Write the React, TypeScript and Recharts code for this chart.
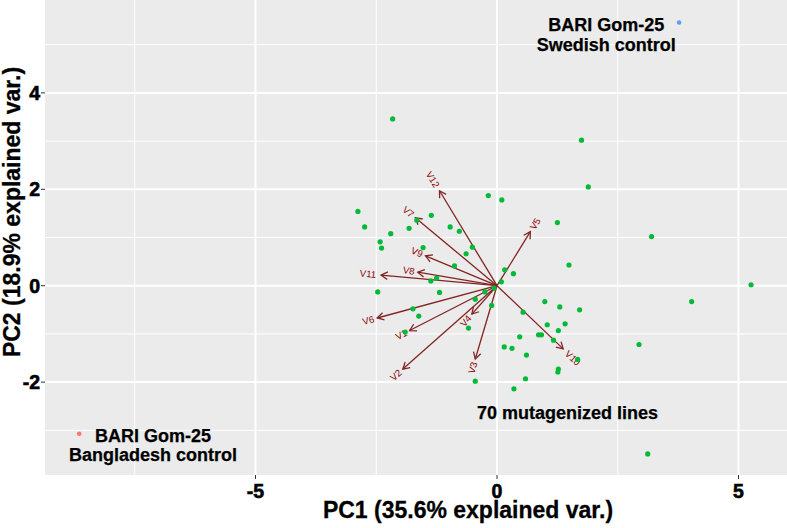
import React from 'react';
import { ScatterChart, Scatter, XAxis, YAxis, CartesianGrid, ReferenceLine } from 'recharts';

// ---------- data ----------
const mutantPoints = [
  { x: -0.18, y: 1.87 }, { x: 0.10, y: 1.78 }, { x: -2.88, y: 1.54 }, { x: -1.36, y: 1.46 },
  { x: -1.66, y: 1.36 }, { x: -2.74, y: 1.22 }, { x: -1.82, y: 1.19 }, { x: -0.97, y: 1.22 },
  { x: -0.78, y: 1.13 }, { x: -2.20, y: 1.08 }, { x: 1.25, y: 1.31 }, { x: -2.42, y: 0.91 },
  { x: -2.39, y: 0.78 }, { x: -1.53, y: 0.79 }, { x: -0.51, y: 0.80 }, { x: -0.64, y: 0.66 },
  { x: 1.49, y: 0.43 }, { x: -0.88, y: 0.41 }, { x: 0.16, y: 0.33 }, { x: 0.34, y: 0.25 },
  { x: -1.25, y: 0.16 }, { x: -1.37, y: 0.10 }, { x: 0.09, y: 0.08 }, { x: -0.06, y: -0.05 },
  { x: -2.47, y: -0.13 }, { x: -1.19, y: -0.14 }, { x: -0.25, y: -0.13 }, { x: -0.45, y: -0.28 },
  { x: 0.99, y: -0.33 }, { x: 1.30, y: -0.44 }, { x: 1.71, y: -0.50 }, { x: -0.11, y: -0.41 },
  { x: 0.54, y: -0.55 }, { x: -1.74, y: -0.48 }, { x: -1.62, y: -0.63 }, { x: 1.04, y: -0.81 },
  { x: 1.41, y: -0.79 }, { x: 1.27, y: -0.93 }, { x: -0.59, y: -0.88 }, { x: -1.90, y: -0.96 },
  { x: 0.86, y: -1.02 }, { x: 0.92, y: -1.02 }, { x: 0.47, y: -1.06 }, { x: 1.17, y: -1.13 },
  { x: 0.15, y: -1.27 }, { x: 0.31, y: -1.30 }, { x: 0.61, y: -1.44 }, { x: 1.27, y: -1.73 },
  { x: 1.26, y: -1.79 }, { x: 0.59, y: -1.93 }, { x: -0.45, y: -1.98 }, { x: 0.35, y: -2.14 },
  { x: -2.16, y: 3.46 }, { x: 1.75, y: 3.02 }, { x: 1.89, y: 2.05 }, { x: 3.20, y: 1.02 },
  { x: 5.26, y: 0.02 }, { x: 4.03, y: -0.33 }, { x: 2.94, y: -1.22 }, { x: 1.67, y: -1.53 },
  { x: 3.12, y: -3.49 },
];
const bangladeshControl = [{ x: -8.65, y: -3.07 }];
const swedishControl = [{ x: 3.77, y: 5.46 }];

const loadingNames = ['V1', 'V2', 'V3', 'V4', 'V5', 'V6', 'V7', 'V8', 'V9', 'V10', 'V11', 'V12'];
const loadingX = [-1.81, -1.95, -0.45, -0.52, 0.69, -2.48, -1.69, -1.64, -1.48, 1.37, -2.40, -1.19];
const loadingY = [-0.93, -1.73, -1.52, -0.59, 1.12, -0.67, 1.41, 0.28, 0.62, -1.31, 0.22, 1.97];

const annotationTexts = [
  { x: 2.26, y: 5.21, lines: ['BARI Gom-25', 'Swedish control'] },
  { x: -7.12, y: -3.305, lines: ['BARI Gom-25', 'Bangladesh control'] },
  { x: 1.46, y: -2.635, lines: ['70 mutagenized lines'] },
];

const xTicks = [-5, 0, 5];
const yTicks = [-2, 0, 2, 4];
const xMinorGrid = [-7.5, -2.5, 2.5];
const yMinorGrid = [-3, -1, 1, 3, 5];
const xDomain: [number, number] = [-9.358, 6.004];
const yDomain: [number, number] = [-3.927, 5.927];

const xTitle = 'PC1 (35.6% explained var.)';
const yTitle = 'PC2 (18.9% explained var.)';

// ---------- styles ----------
const FONT = '"Liberation Sans", Arial, Helvetica, sans-serif';
const GREEN = '#00BA38';
const RED = '#F8766D';
const BLUE = '#619CFF';
const ARROW = '#832424';
const VARTEXT = '#8B0000';

const dot = (fill: string, r: number) => (p: any) =>
  <circle cx={p.cx} cy={p.cy} r={r} fill={fill} />;

const annotationShape = (p: any) => {
  const lines: string[] = p.payload.lines;
  const fs = 18;
  const lh = 19.5;
  return (
    <g>
      {lines.map((t, i) => {
        const cyLine = p.cy + (i - (lines.length - 1) / 2) * lh;
        return (
          <text key={i} x={p.cx} y={cyLine + 0.36 * fs} textAnchor="middle"
            fontFamily={FONT} fontWeight={700} fontSize={fs} fill="#000"
            stroke="#000" strokeWidth={0.25}>{t}</text>
        );
      })}
    </g>
  );
};

const arrowShape = (name: string) => (p: any) => {
  const { x1, y1, x2, y2 } = p;
  if ([x1, y1, x2, y2].some((v) => typeof v !== 'number' || isNaN(v))) return null;
  const dx = x2 - x1, dy = y2 - y1;
  const len = Math.hypot(dx, dy) || 1;
  const ux = dx / len, uy = dy / len;
  const head = 7.5;
  const a = Math.PI / 6;
  const bx = -ux, by = -uy;
  const h1x = x2 + head * (bx * Math.cos(a) - by * Math.sin(a));
  const h1y = y2 + head * (bx * Math.sin(a) + by * Math.cos(a));
  const h2x = x2 + head * (bx * Math.cos(-a) - by * Math.sin(-a));
  const h2y = y2 + head * (bx * Math.sin(-a) + by * Math.cos(-a));
  const fs = 9.5;
  const w = fs * (0.667 + 0.556 * (name.length - 1));
  const off = 0.75 * w + 0.5;
  const lx = x2 + ux * off, ly = y2 + uy * off;
  const rot = (Math.atan(dy / dx) * 180) / Math.PI;
  return (
    <g>
      <line x1={x1} y1={y1} x2={x2} y2={y2} stroke={ARROW} strokeWidth={1.3} />
      <polyline points={`${h1x},${h1y} ${x2},${y2} ${h2x},${h2y}`} fill="none" stroke={ARROW} strokeWidth={1.3} />
      <text x={lx} y={ly} dy="0.35em" textAnchor="middle" transform={`rotate(${rot} ${lx} ${ly})`}
        fontFamily={FONT} fontSize={fs} fill={VARTEXT}>{name}</text>
    </g>
  );
};

const XTick = (p: any) => (
  <text x={p.x} y={p.y} dy="0.71em" textAnchor="middle" fontFamily={FONT} fontWeight={700}
    fontSize={19.5} fill="#000" stroke="#000" strokeWidth={0.6}>{p.payload.value}</text>
);
const YTick = (p: any) => (
  <text x={p.x} y={p.y} dy="0.355em" textAnchor="end" fontFamily={FONT} fontWeight={700}
    fontSize={19.5} fill="#000" stroke="#000" strokeWidth={0.6}>{p.payload.value}</text>
);

export default function App() {
  return (
    <div style={{ position: 'absolute', left: 0, top: 0, width: 787, height: 528, background: '#fff' }}>
      <ScatterChart width={787} height={528} margin={{ top: 0, right: 0, bottom: 0, left: 0 }}>
        <CartesianGrid fill="#EBEBEB" stroke="none" horizontal={false} vertical={false} />
        {xMinorGrid.map((v) => (
          <ReferenceLine key={'xm' + v} x={v} stroke="#fff" strokeWidth={1} zIndex={-60} />
        ))}
        {yMinorGrid.map((v) => (
          <ReferenceLine key={'ym' + v} y={v} stroke="#fff" strokeWidth={1} zIndex={-60} />
        ))}
        {xTicks.map((v) => (
          <ReferenceLine key={'xM' + v} x={v} stroke="#fff" strokeWidth={2} zIndex={-50} />
        ))}
        {yTicks.map((v) => (
          <ReferenceLine key={'yM' + v} y={v} stroke="#fff" strokeWidth={2} zIndex={-50} />
        ))}
        <XAxis type="number" dataKey="x" domain={xDomain} allowDataOverflow ticks={xTicks}
          height={53} axisLine={false} tickSize={4} tickMargin={5}
          tickLine={{ stroke: '#333', strokeWidth: 1 }} tick={XTick}
          label={{
            content: (lp: any) => {
              const vb = lp.viewBox || { x: 45, y: 475, width: 742, height: 53 };
              return (
                <text x={vb.x + vb.width / 2 + 52} y={vb.y + 43} textAnchor="middle"
                  fontFamily={FONT} fontWeight={700} fontSize={23} fill="#000"
                  stroke="#000" strokeWidth={0.3}>{xTitle}</text>
              );
            },
          }} />
        <YAxis type="number" dataKey="y" domain={yDomain} allowDataOverflow ticks={yTicks}
          width={45} axisLine={false} tickSize={4} tickMargin={1}
          tickLine={{ stroke: '#333', strokeWidth: 1 }} tick={YTick}
          label={{
            content: (lp: any) => {
              const vb = lp.viewBox || { x: 0, y: 0, width: 45, height: 475 };
              const cx = vb.x + 20;
              const cy = vb.y + vb.height / 2 - 25.5;
              return (
                <text x={cx} y={cy} textAnchor="middle" transform={`rotate(-90 ${cx} ${cy})`}
                  fontFamily={FONT} fontWeight={700} fontSize={23} fill="#000"
                  stroke="#000" strokeWidth={0.3}>{yTitle}</text>
              );
            },
          }} />
        <Scatter data={mutantPoints} isAnimationActive={false} shape={dot(GREEN, 2.6)} />
        <Scatter data={bangladeshControl} isAnimationActive={false} shape={dot(RED, 2.3)} />
        <Scatter data={swedishControl} isAnimationActive={false} shape={dot(BLUE, 2.3)} />
        {loadingNames.map((n, i) => (
          <ReferenceLine key={n} segment={[{ x: 0, y: 0 }, { x: loadingX[i], y: loadingY[i] }]}
            stroke={ARROW} shape={arrowShape(n)} />
        ))}
        <Scatter data={annotationTexts} isAnimationActive={false} shape={annotationShape} />
      </ScatterChart>
    </div>
  );
}
